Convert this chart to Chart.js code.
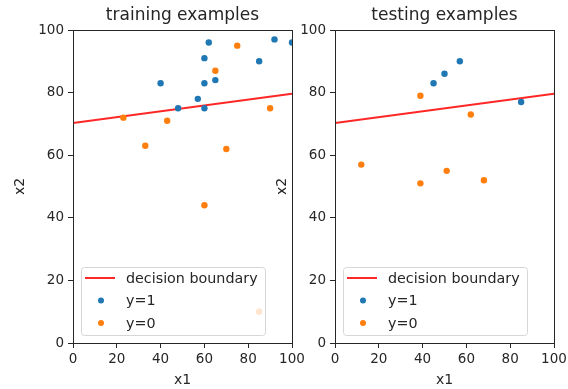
<!DOCTYPE html>
<html>
<head>
<meta charset="utf-8">
<script src="https://cdn.jsdelivr.net/npm/chart.js@4/dist/chart.umd.min.js"></script>
<style>
    html, body { margin: 0; padding: 0; background: #fff; }
    #wrap { position: relative; width: 568px; height: 389px; }
    #wrap canvas { position: absolute; left: 0; top: 0; }
</style>
</head>
<body>
<div id="wrap">
    <canvas id="trainChart" width="568" height="389"></canvas>
    <canvas id="testChart" width="568" height="389"></canvas>
</div>
<script>
// values
const boundaryX = [0, 100];
const boundaryY = [70.3, 79.6];

const trainPosX = [62, 60, 92, 100, 85, 65, 60, 40, 57, 60, 48];
const trainPosY = [96, 91, 97, 96, 90, 84, 83, 83, 78, 75, 75];
const trainNegX = [75, 65, 23, 43, 90, 33, 70, 60, 85];
const trainNegY = [95, 87, 72, 71, 75, 63, 62, 44, 10];

const testPosX = [57, 50, 45, 85];
const testPosY = [90, 86, 83, 77];
const testNegX = [39, 62, 12, 51, 39, 68];
const testNegY = [79, 73, 57, 55, 51, 52];

const axisTicks = [0, 20, 40, 60, 80, 100];

const FONT = 'DejaVu Sans';
const INK = '#262626';

const toPoints = (xs, ys) => xs.map((x, i) => ({ x: x, y: ys[i] }));

// box round the plot area + title centred over it (like matplotlib)
const framePlugin = {
    id: 'frame',
    afterDatasetsDraw(chart, args, opts) {
        const { ctx, chartArea: a } = chart;
        ctx.save();
        ctx.strokeStyle = INK;
        ctx.lineWidth = 1;
        ctx.strokeRect(a.left + 0.5, a.top + 0.5, a.right - a.left, a.bottom - a.top);
        ctx.font = '17px "' + FONT + '"';
        ctx.fillStyle = INK;
        ctx.textAlign = 'center';
        ctx.textBaseline = 'middle';
        ctx.fillText(opts.text, (a.left + a.right) / 2, 16);
        ctx.restore();
    },
};

// legend drawn inside the plot, lower left
const insideLegend = {
    id: 'insideLegend',
    afterDraw(chart) {
        const { ctx, chartArea: a } = chart;
        const boxX = a.left + 8;
        const boxW = 184;
        const boxH = 68;
        const boxY = a.bottom - 8 - boxH;
        ctx.save();
        ctx.beginPath();
        ctx.roundRect(boxX + 0.5, boxY + 0.5, boxW, boxH, 3);
        ctx.fillStyle = 'rgba(255, 255, 255, 0.8)';
        ctx.fill();
        ctx.strokeStyle = '#d6d6d6';
        ctx.lineWidth = 1;
        ctx.stroke();

        ctx.font = '14.3px "' + FONT + '"';
        ctx.textBaseline = 'middle';
        chart.data.datasets.forEach((ds, i) => {
            const y = boxY + 11 + i * 22.5;
            if (ds.type === 'line') {
                ctx.strokeStyle = ds.borderColor;
                ctx.lineWidth = 2;
                ctx.beginPath();
                ctx.moveTo(boxX + 4, y);
                ctx.lineTo(boxX + 34, y);
                ctx.stroke();
            } else {
                ctx.fillStyle = ds.backgroundColor;
                ctx.beginPath();
                ctx.arc(boxX + 20, y, 3, 0, Math.PI * 2);
                ctx.fill();
            }
            ctx.fillStyle = INK;
            ctx.fillText(ds.label, boxX + 45, y + 1);
        });
        ctx.restore();
    },
};

function makeChart(id, titleText, posPts, negPts, layout) {
    const ctx = document.getElementById(id);
    const tickFont = { family: FONT, size: 13.5 };
    return new Chart(ctx, {
        type: 'scatter',
        data: {
            datasets: [
                {
                    type: 'line',
                    label: 'decision boundary',
                    data: toPoints(boundaryX, boundaryY),
                    borderColor: 'rgba(255, 0, 0, 0.85)',
                    borderWidth: 2,
                    pointRadius: 0,
                    order: 3,
                },
                {
                    label: 'y=1',
                    data: posPts,
                    backgroundColor: '#1f77b4',
                    borderWidth: 0,
                    pointRadius: 3.2,
                    order: 2,
                },
                {
                    label: 'y=0',
                    data: negPts,
                    backgroundColor: '#ff7f0e',
                    borderWidth: 0,
                    pointRadius: 3.2,
                    order: 1,
                },
            ],
        },
        options: {
            responsive: false,
            animation: false,
            layout: {
                padding: { left: layout.left, right: layout.right, top: 30, bottom: 0 },
            },
            plugins: {
                legend: { display: false },
                tooltip: { enabled: false },
                title: { display: false },
                frame: { text: titleText },
            },
            scales: {
                x: {
                    type: 'linear',
                    min: 0,
                    max: 100,
                    afterBuildTicks: (scale) => {
                        scale.ticks = axisTicks.map((v) => ({ value: v }));
                    },
                    afterFit: (scale) => {
                        scale.height = 46;
                        scale.paddingLeft = 0;
                        scale.paddingRight = 0;
                    },
                    ticks: { color: INK, font: tickFont, padding: 3, maxRotation: 0 },
                    grid: { drawOnChartArea: false, drawTicks: true, tickLength: 5, color: INK },
                    border: { display: true, color: INK },
                    title: {
                        display: true,
                        text: 'x1',
                        color: INK,
                        font: { family: FONT, size: 14 },
                        padding: { top: 0, bottom: 0 },
                    },
                },
                y: {
                    type: 'linear',
                    min: 0,
                    max: 100,
                    afterBuildTicks: (scale) => {
                        scale.ticks = axisTicks.map((v) => ({ value: v }));
                    },
                    afterFit: (scale) => {
                        scale.width = layout.yWidth;
                        scale.paddingTop = 0;
                        scale.paddingBottom = 0;
                    },
                    ticks: { color: INK, font: tickFont, padding: 4 },
                    grid: { drawOnChartArea: false, drawTicks: true, tickLength: 5, color: INK },
                    border: { display: true, color: INK },
                    title: {
                        display: true,
                        text: 'x2',
                        color: INK,
                        font: { family: FONT, size: 14 },
                        padding: { top: layout.yTitlePad, bottom: 0 },
                    },
                },
            },
        },
        plugins: [framePlugin, insideLegend],
    });
}

makeChart('trainChart', 'training examples',
    toPoints(trainPosX, trainPosY), toPoints(trainNegX, trainNegY),
    { left: 0, right: 276, yWidth: 73, yTitlePad: 11.6 });

makeChart('testChart', 'testing examples',
    toPoints(testPosX, testPosY), toPoints(testNegX, testNegY),
    { left: 268, right: 14, yWidth: 67, yTitlePad: 5.6 });
</script>
</body>
</html>
